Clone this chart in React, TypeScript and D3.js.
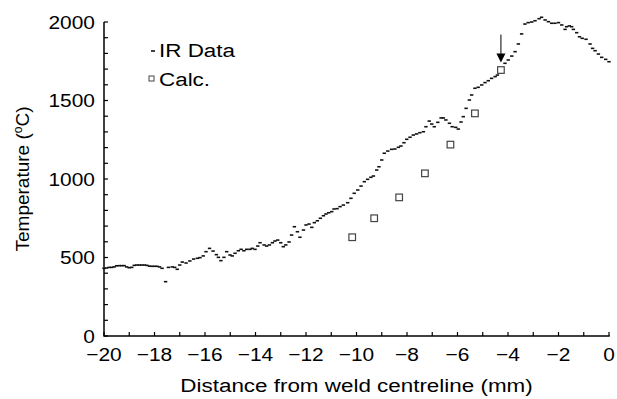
import React from "react";
import * as d3 from "d3";

const irX = [-20.0,-19.9,-19.8,-19.7,-19.6,-19.5,-19.4,-19.3,-19.2,-19.1,-19.0,-18.9,-18.8,-18.7,-18.6,-18.5,-18.4,-18.3,-18.2,-18.1,-18.0,-17.9,-17.8,-17.7,-17.56,-17.45,-17.3,-17.2,-17.1,-17.0,-16.9,-16.75,-16.6,-16.45,-16.3,-16.2,-16.07,-15.96,-15.82,-15.68,-15.55,-15.47,-15.37,-15.25,-15.14,-15.01,-14.92,-14.81,-14.68,-14.57,-14.46,-14.35,-14.22,-14.13,-14.02,-13.91,-13.82,-13.66,-13.56,-13.45,-13.33,-13.23,-13.12,-13.0,-12.9,-12.8,-12.67,-12.57,-12.46,-12.34,-12.24,-12.1,-12.0,-11.88,-11.77,-11.67,-11.55,-11.43,-11.31,-11.21,-11.1,-10.98,-10.89,-10.77,-10.65,-10.52,-10.35,-10.22,-10.09,-9.95,-9.82,-9.69,-9.56,-9.43,-9.33,-9.2,-9.11,-9.0,-8.9,-8.76,-8.61,-8.48,-8.34,-8.24,-8.12,-8.01,-7.88,-7.75,-7.62,-7.49,-7.35,-7.25,-7.12,-7.02,-6.92,-6.78,-6.65,-6.56,-6.46,-6.32,-6.21,-6.07,-5.97,-5.86,-5.77,-5.66,-5.53,-5.44,-5.31,-5.18,-5.04,-4.91,-4.78,-4.65,-4.51,-4.42,-4.12,-3.99,-3.85,-3.72,-3.59,-3.46,-3.33,-3.2,-3.06,-2.93,-2.77,-2.67,-2.53,-2.4,-2.27,-2.14,-2.0,-1.87,-1.74,-1.68,-1.57,-1.48,-1.41,-1.28,-1.17,-1.06,-0.91,-0.75,-0.65,-0.55,-0.42,-0.29,-0.13,0.0];
const irT = [431,433,437,437,440,447,448,448,448,440,435,437,450,452,452,452,452,450,445,444,444,444,440,431,346,437,440,437,425,452,471,465,478,490,495,499,510,537,558,541,518,501,480,501,537,516,510,527,543,552,543,552,552,558,552,573,594,580,573,580,594,605,611,594,569,580,599,643,696,664,629,675,707,713,692,722,734,750,766,777,785,792,809,811,824,834,849,877,909,930,955,983,998,1011,1019,1057,1078,1121,1164,1178,1189,1191,1202,1210,1231,1253,1266,1280,1287,1295,1301,1333,1369,1350,1333,1361,1389,1389,1376,1355,1333,1329,1318,1363,1397,1450,1503,1535,1578,1584,1599,1614,1626,1641,1652,1662,1737,1758,1783,1811,1860,1924,1987,1996,2000,2008,2021,2030,2013,2002,1992,1992,1996,1981,1953,1970,1975,1970,1953,1932,1906,1896,1890,1860,1832,1817,1796,1775,1762,1747];

const calcX = [-10.17, -9.3, -8.31, -7.29, -6.28, -5.31, -4.28];
const calcT = [629, 750, 883, 1036, 1219, 1418, 1694];

const xTicks = d3.range(-20, 1, 1);
const xLabels = [-20, -18, -16, -14, -12, -10, -8, -6, -4, -2, 0];
const yTicks = d3.range(0, 2001, 100);
const yLabels = [0, 500, 1000, 1500, 2000];

const arrowX = -4.28;
const arrowFrom = 1920;
const arrowTo = 1742;

const FONT = "'Liberation Sans', Arial, Helvetica, sans-serif";

export default function App() {
  const W = 617, H = 399;
  const x = d3.scaleLinear().domain([-20, 0]).range([104, 609]);
  const y = d3.scaleLinear().domain([0, 2000]).range([336, 22]);
  const fmt = (v: number) => (v < 0 ? "\u2212" + Math.abs(v) : String(v));
  const ax = x(arrowX);
  const aTop = y(arrowFrom);
  const aTip = y(arrowTo);
  const SX = 1.1;
  const ST = 1.18;

  return (
    <svg width={W} height={H} style={{ position: "absolute", left: 0, top: 0, background: "#fff" }} fontFamily={FONT}>
      <rect width={W} height={H} fill="#fff" />
      {/* axes */}
      <line x1={x(-20)} x2={x(0) + 0.75} y1={y(0)} y2={y(0)} stroke="#000" strokeWidth={1.5} />
      <line x1={x(-20)} x2={x(-20)} y1={y(0) + 0.75} y2={y(2000)} stroke="#000" strokeWidth={1.5} />
      {xTicks.map((t) => (
        <line key={"xt" + t} x1={x(t)} x2={x(t)} y1={y(0)} y2={y(0) - 4} stroke="#000" strokeWidth={1.2} />
      ))}
      {yTicks.map((t) => (
        <line key={"yt" + t} x1={x(-20)} x2={x(-20) + 4} y1={y(t)} y2={y(t)} stroke="#000" strokeWidth={1.2} />
      ))}
      {xLabels.map((t) => (
        <text key={"xl" + t} transform={`translate(${x(t)},361) scale(${SX},1)`} textAnchor="middle" fontSize={19} fill="#000">
          {fmt(t)}
        </text>
      ))}
      {yLabels.map((t) => (
        <text key={"yl" + t} transform={`translate(95,${y(t) + 6.8}) scale(${SX},1)`} textAnchor="end" fontSize={19} fill="#000">
          {t}
        </text>
      ))}
      <text transform={`translate(${(x(-20) + x(0)) / 2},392) scale(${ST},1)`} textAnchor="middle" fontSize={19} fill="#000">
        Distance from weld centreline (mm)
      </text>
      <text transform={`translate(29,${(y(0) + y(2000)) / 2}) rotate(-90)`} textAnchor="middle" fontSize={19} fill="#000">
        Temperature (<tspan fontSize={12} dy={-7}>o</tspan><tspan dy={7}>C)</tspan>
      </text>
      {/* IR data */}
      {irX.map((v, i) => (
        <line key={"ir" + i} x1={x(v) - 1.7} x2={x(v) + 1.7} y1={y(irT[i])} y2={y(irT[i])} stroke="#111" strokeWidth={1.6} />
      ))}
      {/* Calc */}
      {calcX.map((v, i) => (
        <rect key={"c" + i} x={x(v) - 3.3} y={y(calcT[i]) - 3.3} width={6.6} height={6.6} fill="#fff" stroke="#444" strokeWidth={1.2} />
      ))}
      {/* arrow */}
      <line x1={ax} x2={ax} y1={aTop} y2={aTip - 6} stroke="#000" strokeWidth={1} />
      <path d={`M${ax - 4.5},${aTip - 9} L${ax + 4.5},${aTip - 9} L${ax},${aTip} Z`} fill="#000" />
      {/* legend */}
      <line x1={151} x2={155} y1={51} y2={51} stroke="#111" strokeWidth={1.6} />
      <text transform={`translate(159,57) scale(${ST},1)`} fontSize={19} fill="#000">IR Data</text>
      <rect x={149} y={76} width={5} height={5} fill="#fff" stroke="#444" strokeWidth={1} />
      <text transform={`translate(159,86) scale(${ST},1)`} fontSize={19} fill="#000">Calc.</text>
    </svg>
  );
}
